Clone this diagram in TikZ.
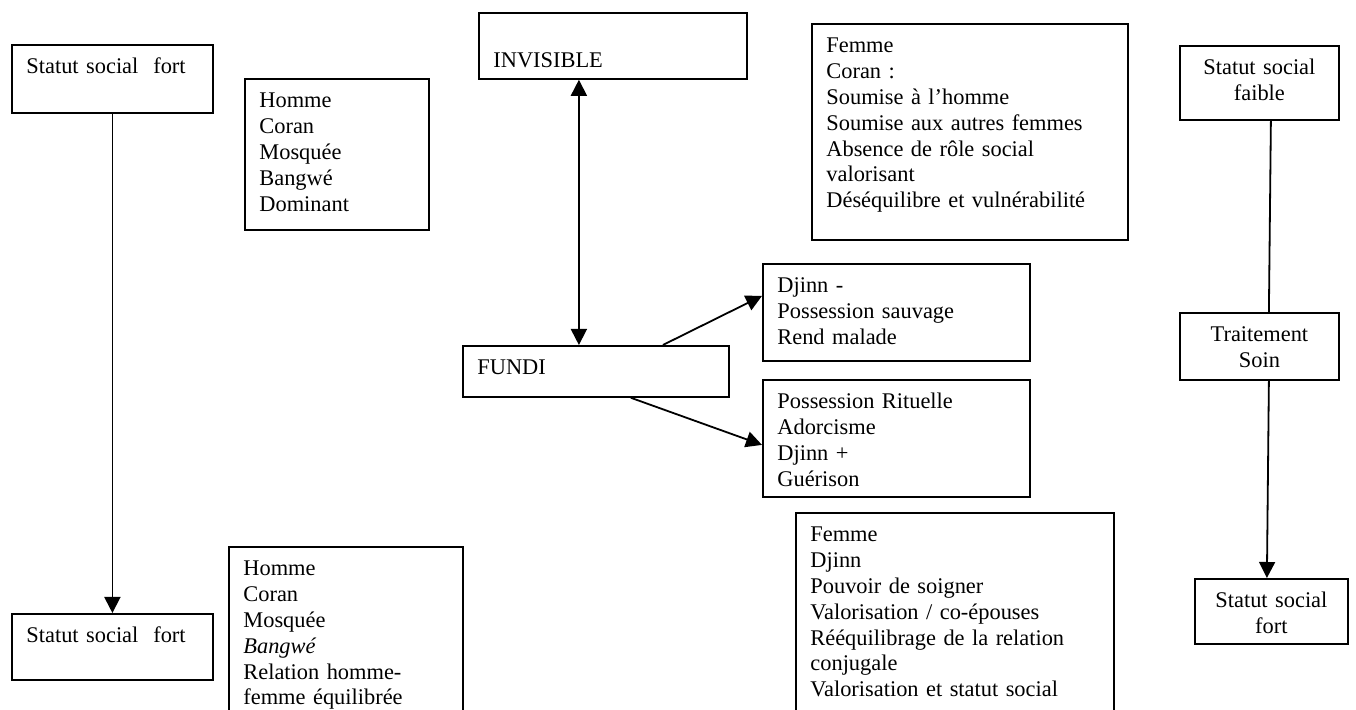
\documentclass[tikz,border=0pt]{standalone}
\usepackage{fontspec}
\setmainfont{Liberation Serif}
\usetikzlibrary{positioning, arrows.meta}

\begin{document}
\begin{tikzpicture}[x=0.5pt, y=-0.5pt,
    cadre/.style={draw=black, line width=0.9pt, anchor=north west, align=left,
        inner xsep=7.25pt, inner ysep=5.5pt, text height=9pt,
        font=\fontsize{11.2}{12.9}\selectfont},
    centre/.style={cadre, align=center},
    trait/.style={line width=0.9pt},
    >={Triangle[width=8pt, length=8pt]}]
    \useasboundingbox (0,0) rectangle (1356,710);

    % colonne de gauche
    \node[cadre, text width=86pt, text depth=14pt] (fortA) at (11,44) {Statut social\ \ fort};
    \node[cadre, text width=77.5pt, text depth=55.5pt] (hommeA) at (244,78) {Homme\\Coran\\Mosquée\\Bangwé\\Dominant};
    \node[cadre, text width=86pt, text depth=13pt] (fortB) at (11,613) {Statut social\ \ fort};
    \node[cadre, text width=102.5pt, text depth=65pt] (hommeB) at (228,546) {Homme\\Coran\\Mosquée\\\textit{Bangwé}\\Relation homme-\\femme équilibrée};

    % centre
    \node[cadre, text width=119.5pt, text depth=13pt] (invisible) at (478,12) {\mbox{}\\INVISIBLE};
    \node[cadre, text width=118.5pt, text depth=5.5pt] (fundi) at (462,345) {FUNDI};
    \node[cadre, text width=119pt, text depth=28.5pt] (djinnA) at (762,263) {Djinn -\\Possession sauvage\\Rend malade};
    \node[cadre, text width=119pt, text depth=38.5pt] (rituelle) at (762,379) {Possession Rituelle\\Adorcisme\\Djinn +\\Guérison};
    \node[cadre, text width=143.5pt, text depth=88pt] (femmeA) at (811,23) {Femme\\Coran :\\Soumise à l’homme\\Soumise aux autres femmes\\Absence de rôle social\\valorisant\\Déséquilibre et vulnérabilité};
    \node[cadre, text width=144.5pt, text depth=82pt] (femmeB) at (795,512) {Femme\\Djinn\\Pouvoir de soigner\\Valorisation / co-épouses\\Rééquilibrage de la relation\\conjugale\\Valorisation et statut social};

    % colonne de droite
    \node[centre, text width=65pt, text depth=17pt] (faible) at (1179,45) {Statut social\\faible};
    \node[centre, text width=65pt, text depth=13.5pt] (soin) at (1179,312) {Traitement\\Soin};
    \node[centre, text width=62pt, text depth=12.5pt] (fortC) at (1194,578) {Statut social\\fort};

    % liens
    \draw[trait, ->] (fortA.south) -- (fortB.north);
    \draw[trait, <->] ([xshift=-17pt]invisible.south) -- ([xshift=-8.5pt]fundi.north);
    \draw[trait, ->] ([xshift=33.5pt]fundi.north) -- ([yshift=8.25pt]djinnA.west);
    \draw[trait, ->] ([xshift=17.5pt]fundi.south) -- ([yshift=-3.25pt]rituelle.west);
    \draw[trait] ([xshift=5.75pt]faible.south) -- ([xshift=4.75pt]soin.north);
    \draw[trait, ->] ([xshift=4.75pt]soin.south) -- ([xshift=-2.25pt]fortC.north);
\end{tikzpicture}
\end{document}
